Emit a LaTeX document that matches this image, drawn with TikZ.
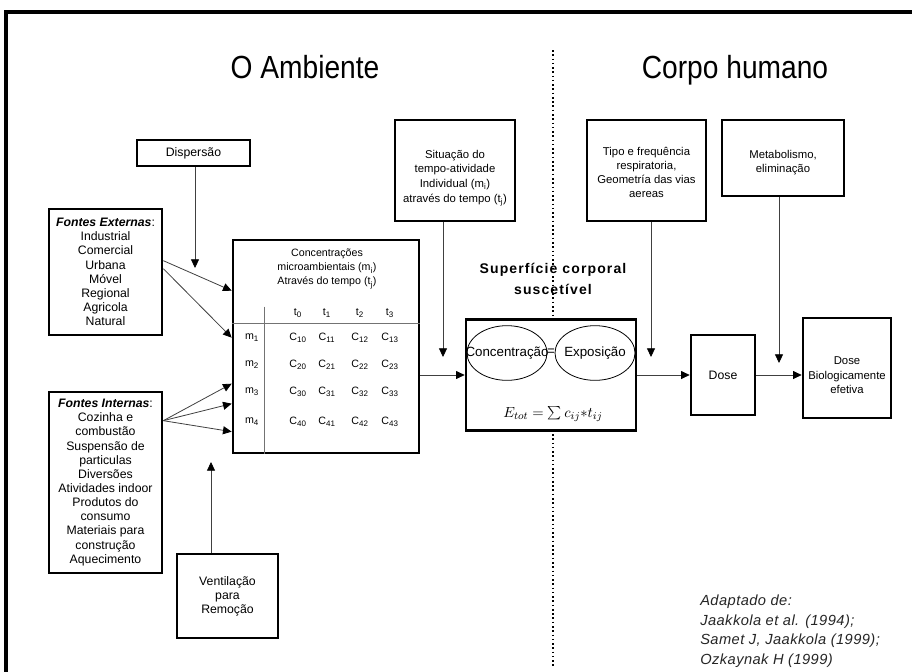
\documentclass[tikz,border=0pt]{standalone}
\usepackage{fontspec}
\setmainfont{Liberation Sans}
\newfontfamily\largafont[LetterSpace=8]{Liberation Sans}
\newfontfamily\notafont[LetterSpace=3]{Liberation Sans}
\usetikzlibrary{arrows.meta,calc,shapes.geometric}
\tikzset{
caixa/.style={draw,line width=2pt,align=center,inner sep=1pt,font=\fontsize{9.2}{10.6}\selectfont},
texto/.style={align=center,inner sep=0pt,font=\fontsize{8.5}{11}\selectfont},
fluxo/.style={draw=black!75,line width=0.6pt,-{Triangle[length=6.5pt,width=6pt,black]}},
grade/.style={draw=black!55,line width=0.6pt},
celula/.style={inner sep=0pt,font=\fontsize{8}{10.5}\selectfont},
titulo/.style={anchor=base,xscale=0.88,font=\fontsize{24}{28}\selectfont},
bolha/.style={ellipse,draw,line width=0.6pt,minimum width=60pt,minimum height=41pt,inner sep=0pt,font=\fontsize{7.2}{10}\selectfont}
}

\begin{document}
\begin{tikzpicture}[x=0.75pt,y=-0.75pt]
\useasboundingbox (0,0) rectangle (912,671);
\fill[white] (0,0) rectangle (912,671);
\draw[line width=3pt] (6,12) rectangle (935,695);
%%% titulos e divisao
\node[titulo] (amb) at (305,78) {O Ambiente};
\node[titulo] (corpo) at (735,78) {Corpo humano};
\draw[dotted,line width=1.2pt] (553,50) -- (553,668);
%%% o ambiente
\node[caixa,minimum width=84.75pt,minimum height=19.5pt] (disp) at (193.5,153) {Dispersão};
\node[caixa,minimum width=84.75pt,minimum height=94.5pt] (ext) at (105.5,272)
  {\textbf{\textit{Fontes Externas}}:\\Industrial\\Comercial\\Urbana\\Móvel\\Regional\\Agricola\\Natural};
\node[caixa,minimum width=84.75pt,minimum height=135.75pt] (int) at (105.5,482.5)
  {\textbf{\textit{Fontes Internas}}:\\Cozinha e\\combustão\\Suspensão de\\particulas\\Diversões\\Atividades indoor\\Produtos do\\consumo\\Materiais para\\construção\\Aquecimento};
\node[caixa,minimum width=75.75pt,minimum height=63pt] (vent) at (227.5,596) {Ventilação\\para\\Remoção};
\node[caixa,minimum width=139.5pt,minimum height=159.75pt] (mat) at (326,346.5) {};
\node[caixa,minimum width=90pt,minimum height=75.75pt,
  label={[texto,yshift=-5.5pt]center:Situação do\\tempo-atividade\\Individual (m\textsubscript{i})\\através do tempo (t\textsubscript{j})}] (sit) at (455,170.5) {};
%%% matriz de concentracoes
\node[celula,align=center] (mattit) at (327,269)
  {Concentrações\\microambientais (m\textsubscript{i})\\Através do tempo (t\textsubscript{j})};
\draw[grade] ($(mat.north west)+(0,85)$) -- ($(mat.north east)+(0,85)$);
\draw[grade] ($(mat.north west)+(33,68)$) -- ($(mat.south west)+(33,0)$);
\foreach \j/\x in {0/298,1/327,2/360,3/390}
  \node[celula] (t\j) at (\x,313) {t\textsubscript{\j}};
\foreach \i/\y in {1/338,2/365,3/392,4/422}
{
 \node[celula] (m\i) at (252,\y) {m\textsubscript{\i}};
 \foreach \j/\x in {0/298,1/327,2/360,3/390}
  \node[celula] (c\i\j) at (\x,\y) {C\textsubscript{\i\j}};
}
%%% fontes -> matriz
\foreach \a/\b in {53/52,61/99}
  \draw[fluxo] ($(ext.north east)+(0,\a)$) -- ($(mat.north west)+(0,\b)$);
\foreach \b in {145,165,193}
  \draw[fluxo] ($(int.north east)+(0,30)$) -- ($(mat.north west)+(0,\b)$);
\coordinate (dispfim) at (195,268);
\draw[fluxo] (disp.south -| dispfim) -- (dispfim);
\coordinate (ventfim) at (211,462);
\draw[fluxo] (vent.north -| ventfim) -- (ventfim);
%%% corpo humano
\node[font=\largafont\bfseries\fontsize{10.5}{15.5}\selectfont,align=center] (suplab) at (553,279)
  {Superfície corporal\\suscetível};
\node[caixa,fill=white,minimum width=127.5pt,minimum height=83.25pt] (sup) at (551,375) {};
\node[bolha,label={center:Concentração}] (conc) at (507,353) {};
\node[bolha,label={center:Exposição}] (expo) at (595,353) {};
\node[inner sep=0pt,font=\fontsize{10}{10}\selectfont] (igual) at (551,352) {=};
\node[font=\fontsize{11}{12}\selectfont] (etot) at (553,414) {$E_{tot}=\sum c_{ij}{*}t_{ij}$};
\node[caixa,minimum width=89.25pt,minimum height=75.75pt,
  label={[texto,font=\fontsize{8.5}{10.7}\selectfont,yshift=-1.5pt]center:Tipo e frequência\\respiratoria,\\Geometría das vias\\aereas}] (tipo) at (646.5,170.5) {};
\node[caixa,minimum width=91.5pt,minimum height=57pt,
  label={[texto,font=\fontsize{8.5}{10}\selectfont,yshift=-3.5pt]center:Metabolismo,\\eliminação}] (meta) at (783,158) {};
\node[caixa,minimum width=48pt,minimum height=60pt] (dose) at (723,375) {Dose};
\node[caixa,minimum width=66pt,minimum height=75pt,
  label={[texto,font=\fontsize{8.5}{10.9}\selectfont,yshift=-5.5pt]center:Dose\\Biologicamente\\efetiva}] (bio) at (847,368) {};
%%% ligacoes
\coordinate (sitfim) at (443,357);
\draw[fluxo] (sit.south -| sitfim) -- (sitfim);
\coordinate (tipofim) at (651,357);
\draw[fluxo] (tipo.south -| tipofim) -- (tipofim);
\coordinate (metafim) at (779,363);
\draw[fluxo] (meta.south -| metafim) -- (metafim);
\draw[fluxo] (mat.east |- sup.west) -- (sup.west);
\draw[fluxo] (sup.east) -- (dose.west);
\draw[fluxo] (dose.east) -- (dose.east -| bio.west);
%%% referencia
\node[font=\notafont\itshape\fontsize{11}{14.6}\selectfont,align=left,anchor=north west,inner sep=0pt,text=black!85] (ref) at (700,595)
  {Adaptado de:\\Jaakkola et al. (1994);\\Samet J, Jaakkola (1999);\\Ozkaynak H (1999)};
\end{tikzpicture}
\end{document}
